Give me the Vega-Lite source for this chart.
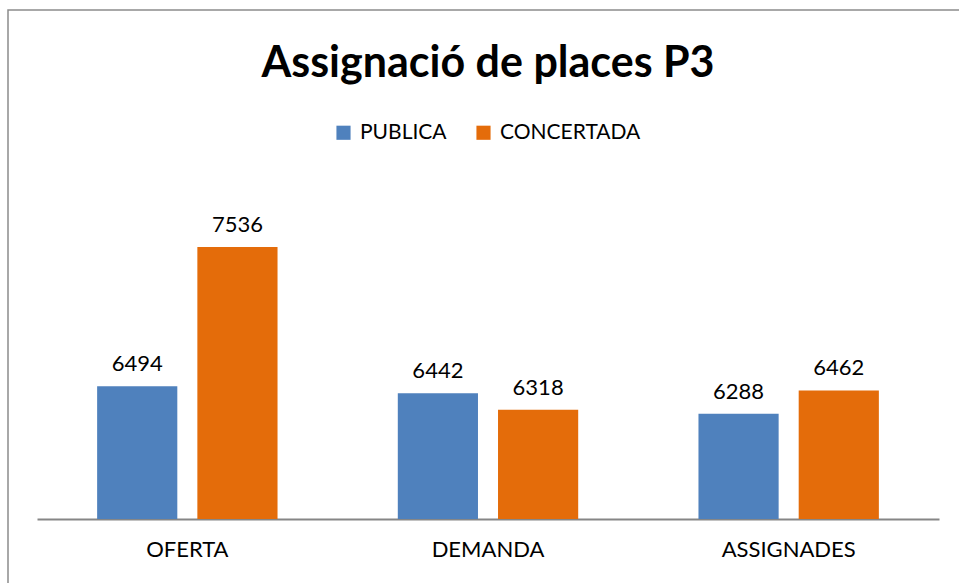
{
  "$schema": "https://vega.github.io/schema/vega-lite/v6.json",
  "width": 960,
  "height": 600,
  "padding": {"left": 8, "top": 10, "right": 0, "bottom": 0},
  "background": "white",
  "title": {
    "text": "Assignació de places P3",
    "fontSize": 43,
    "font": "Lato",
    "fontWeight": "bold",
    "color": "#000000",
    "anchor": "middle",
    "offset": -76
  },
  "data": {
    "values": [
      {"cat": "OFERTA", "tipus": "PUBLICA", "value": 6494},
      {"cat": "OFERTA", "tipus": "CONCERTADA", "value": 7536},
      {"cat": "DEMANDA", "tipus": "PUBLICA", "value": 6442},
      {"cat": "DEMANDA", "tipus": "CONCERTADA", "value": 6318},
      {"cat": "ASSIGNADES", "tipus": "PUBLICA", "value": 6288},
      {"cat": "ASSIGNADES", "tipus": "CONCERTADA", "value": 6462}
    ]
  },
  "encoding": {
    "x": {
      "field": "cat",
      "type": "nominal",
      "sort": ["OFERTA", "DEMANDA", "ASSIGNADES"],
      "scale": {"range": [29, 931], "paddingInner": 0, "paddingOuter": 0},
      "axis": {
        "title": null,
        "orient": "bottom",
        "offset": -91,
        "domainColor": "#868686",
        "domainWidth": 2,
        "ticks": false,
        "labelFontSize": 22,
        "labelFont": "Lato",
        "labelColor": "#000000",
        "labelPadding": 20,
        "labelAngle": 0,
        "grid": false
      }
    },
    "xOffset": {
      "field": "tipus",
      "type": "nominal",
      "sort": ["PUBLICA", "CONCERTADA"],
      "scale": {"paddingInner": 0.2, "paddingOuter": 0.6}
    },
    "y": {
      "field": "value",
      "type": "quantitative",
      "scale": {"domain": [5500, 8000], "range": [509, 175], "zero": false, "nice": false},
      "axis": null
    }
  },
  "layer": [
    {
      "mark": {"type": "bar"},
      "encoding": {
        "y2": {"datum": 5500},
        "color": {
          "field": "tipus",
          "type": "nominal",
          "sort": ["PUBLICA", "CONCERTADA"],
          "scale": {"domain": ["PUBLICA", "CONCERTADA"], "range": ["#4F81BD", "#E46C0A"]},
          "legend": {
            "title": null,
            "orient": "none",
            "legendX": 325,
            "legendY": 112,
            "direction": "horizontal",
            "symbolType": "square",
            "symbolSize": 200,
            "symbolStrokeWidth": 0,
            "labelFontSize": 21,
            "labelFont": "Lato",
            "labelColor": "#000000",
            "columnPadding": 26,
            "labelOffset": 6
          }
        }
      }
    },
    {
      "mark": {"type": "text", "baseline": "bottom", "dy": -10, "fontSize": 22, "font": "Lato", "color": "#000000"},
      "encoding": {
        "text": {"field": "value", "type": "quantitative", "format": "d"}
      }
    }
  ],
  "config": {
    "view": {"stroke": "#8c8c8c", "strokeWidth": 1.5}
  }
}
